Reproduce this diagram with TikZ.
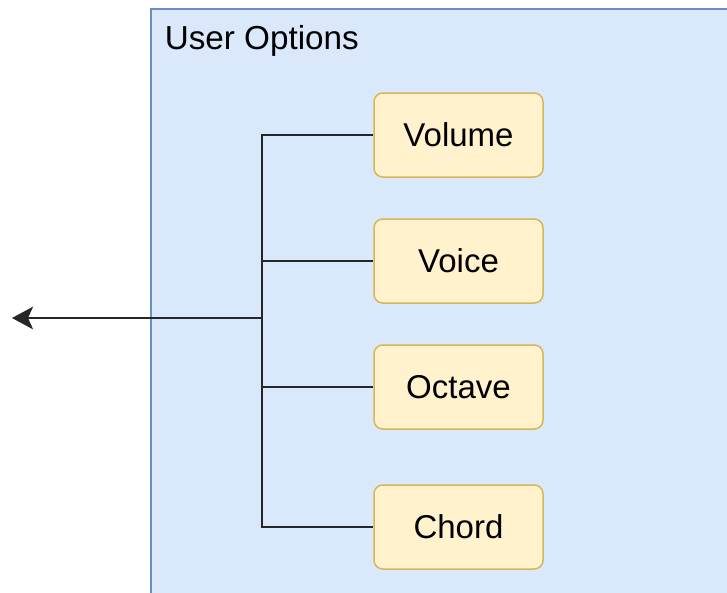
\documentclass[tikz,border=0pt]{standalone}
\usepackage{fontspec}
\setmainfont{Liberation Sans}
\usetikzlibrary{arrows.meta}
\definecolor{grpfill}{HTML}{DAE8FC}
\definecolor{grpline}{HTML}{6C8EBF}
\definecolor{optfill}{HTML}{FFF2CC}
\definecolor{optline}{HTML}{D6B656}

\begin{document}
\begin{tikzpicture}[
		x=0.4pt, y=-0.4pt,
		opt/.style = {draw=optline, fill=optfill, line width=0.6pt, rounded corners=3.5pt, minimum width=67.6pt, minimum height=33.6pt, align=center, font=\fontsize{13.2}{15}\selectfont},
		wire/.style = {line width=0.9pt, black!85},
		>={Stealth[length=8.4pt, width=9pt, inset=2pt]}
	]
	\useasboundingbox (0,0) rectangle (727,593);
	\fill[white] (0,0) rectangle (727,593);
	\draw[grpline, fill=grpfill, line width=0.8pt] (151,9) rectangle (760,640);
	\node[anchor=base west, font=\fontsize{13.3}{15}\selectfont] (title) at (156,50) {User Options};

	\node[opt] (vol)   at (458.5,135) {Volume};
	\node[opt] (voice) at (458.5,261) {Voice};
	\node[opt] (oct)   at (458.5,387) {Octave};
	\node[opt] (chord) at (458.5,527) {Chord};

	\coordinate (bus) at (262,318);
	\coordinate (out) at (12,318);

	\draw[wire] (vol.west) -| (bus) |- (chord.west);
	\draw[wire] (voice.west) -- (voice.west -| bus);
	\draw[wire] (oct.west) -- (oct.west -| bus);
	\draw[wire, ->] (bus) -- (out);
\end{tikzpicture}
\end{document}
